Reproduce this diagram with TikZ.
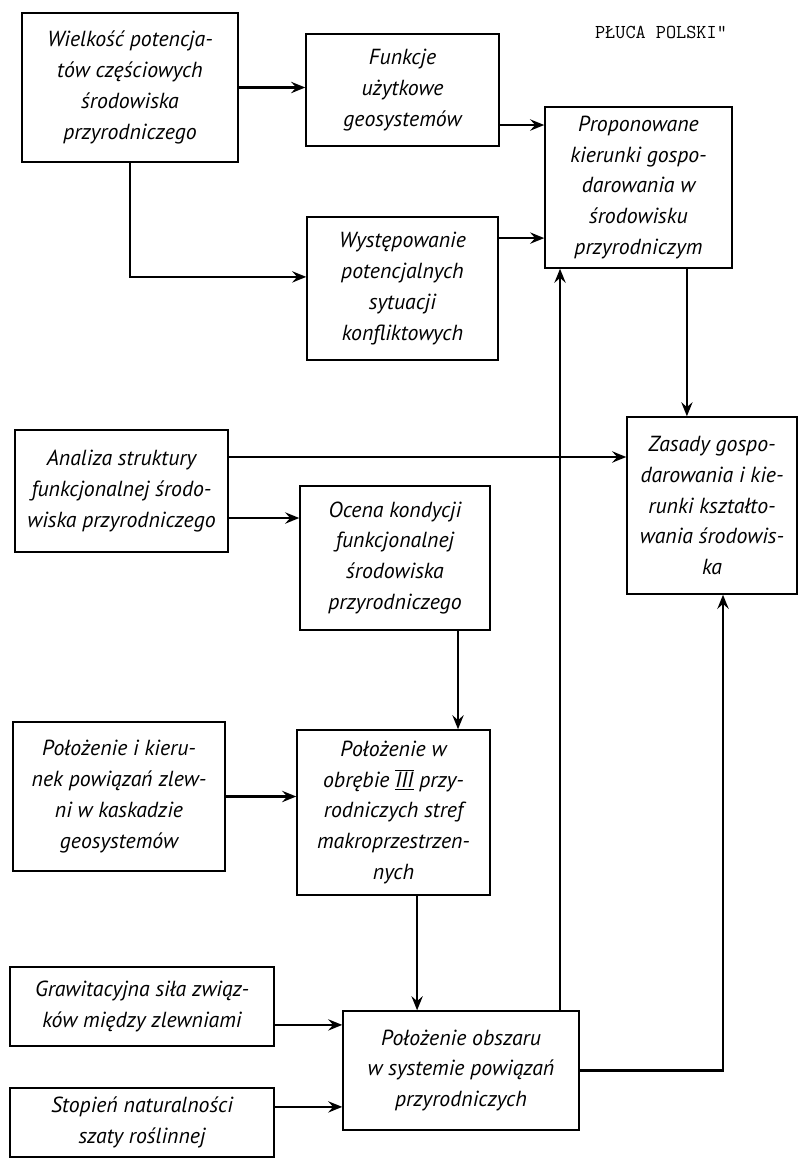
\documentclass[tikz,border=0pt]{standalone}
\usepackage{fontspec}
\setmainfont{PT Sans}
\usepackage{tikz}
\usetikzlibrary{positioning, arrows.meta, calc}

\begin{document}
\begin{tikzpicture}[
                x=0.025cm, y=-0.025cm,
                block/.style={draw=black, line width=1pt, rectangle, align=center, inner sep=2pt, font=\fontsize{15.5}{22}\selectfont\itshape},
                edge/.style={line width=1.8pt, -{Stealth[length=10pt, width=8pt, inset=3.5pt]}},
                header/.style={font=\fontsize{14}{16}\selectfont\ttfamily}
            ]

            \useasboundingbox (0,0) rectangle (806,1159);

            % Węzły
            \node[header] (title) at (661,32) {PŁUCA POLSKI"};

            \node[block, minimum width=5.4cm, minimum height=3.725cm] (wielkosc) at (130,87.5) {Wielkość potencja-\\tów częściowych\\środowiska\\przyrodniczego};
            \node[block, minimum width=4.825cm, minimum height=2.8cm] (funkcje) at (402.5,90) {Funkcje\\użytkowe\\geosystemów};
            \node[block, minimum width=4.775cm, minimum height=3.575cm] (konflikty) at (402.5,288.5) {Występowanie\\potencjalnych\\sytuacji\\konfliktowych};
            \node[block, minimum width=4.675cm, minimum height=4.025cm] (kierunki) at (638.5,187.5) {Proponowane\\kierunki gospo-\\darowania w\\środowisku\\przyrodniczym};
            \node[block, minimum width=4.25cm, minimum height=4.425cm] (zasady) at (712,505.5) {Zasady gospo-\\darowania i kie-\\runki kształto-\\wania środowis-\\ka};

            \node[block, minimum width=5.325cm, minimum height=3.05cm] (analiza) at (121.5,491) {Analiza struktury\\funkcjonalnej środo-\\wiska przyrodniczego};
            \node[block, minimum width=4.75cm, minimum height=3.6cm] (ocena) at (395,558) {Ocena kondycji\\funkcjonalnej\\środowiska\\przyrodniczego};

            \node[block, minimum width=5.3cm, minimum height=3.725cm] (kaskada) at (119,796.5) {Położenie i kieru-\\nek powiązań zlew-\\ni w kaskadzie\\geosystemów};
            \node[block, minimum width=4.825cm, minimum height=4.125cm] (strefy) at (393.5,812.5) {Położenie w\\obrębie $\overline{\underline{\hbox{III}}}$ przy-\\rodniczych stref\\makroprzestrzen-\\nych};

            \node[block, minimum width=6.6cm, minimum height=1.975cm] (grawitacja) at (142,1006.5) {Grawitacyjna siła związ-\\ków między zlewniami};
            \node[block, minimum width=6.6cm, minimum height=1.725cm] (roslinnosc) at (142,1122.5) {Stopień naturalności\\szaty roślinnej};
            \node[block, minimum width=5.9cm, minimum height=2.975cm] (obszar) at (461,1070.5) {Położenie obszaru\\w systemie powiązań\\przyrodniczych};

            % Połączenia
            \draw[edge] (wielkosc.east) -- (wielkosc.east -| funkcje.west);
            \draw[edge] (wielkosc.south) |- ([yshift=0.29cm]konflikty.west);
            \draw[edge] ([yshift=-0.875cm]funkcje.east) -- ([yshift=-0.875cm]funkcje.east -| kierunki.west);
            \draw[edge] ([yshift=1.26cm]konflikty.east) -- ([yshift=1.26cm]konflikty.east -| kierunki.west);
            \draw[edge] ([xshift=1.21cm]kierunki.south) -- ([xshift=1.21cm]kierunki.south |- zasady.north);

            \draw[edge] ([yshift=0.85cm]analiza.east) -- ([yshift=0.85cm]analiza.east -| zasady.west);
            \draw[edge] ([yshift=-0.675cm]analiza.east) -- ([yshift=-0.675cm]analiza.east -| ocena.west);
            \draw[edge] ([xshift=1.575cm]ocena.south) -- ([xshift=1.575cm]ocena.south |- strefy.north);

            \draw[edge] (kaskada.east) -- (kaskada.east -| strefy.west);
            \draw[edge] ([xshift=0.59cm]strefy.south) -- ([xshift=0.59cm]strefy.south |- obszar.north);

            \draw[edge] ([yshift=-0.46cm]grawitacja.east) -- ([yshift=-0.46cm]grawitacja.east -| obszar.west);
            \draw[edge] ([yshift=0.39cm]roslinnosc.east) -- ([yshift=0.39cm]roslinnosc.east -| obszar.west);

            \draw[edge] ([xshift=2.475cm]obszar.north) -- ([xshift=2.475cm]obszar.north |- kierunki.south);
            \draw[edge] (obszar.east) -| ([xshift=0.275cm]zasady.south);

        \end{tikzpicture}
\end{document}
